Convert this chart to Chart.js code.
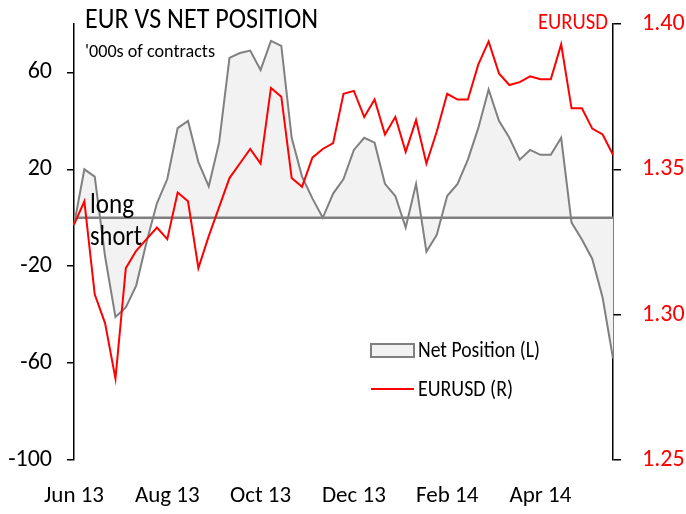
<!DOCTYPE html>
<html>
<head>
<meta charset="utf-8">
<script src="https://cdn.jsdelivr.net/npm/chart.js@4.4.1/dist/chart.umd.min.js"></script>
<style>
    html, body { margin: 0; padding: 0; background: #fff; }
    canvas { display: block; }
</style>
</head>
<body>
<canvas id="chart" width="686" height="514"></canvas>
<script>
// weekly data, Jun 2013 - Jun 2014
const xTickLabels = ['Jun 13', 'Aug 13', 'Oct 13', 'Dec 13', 'Feb 14', 'Apr 14']
const labelEvery = 9

// CFTC net position, '000s of contracts (left axis)
const netPosition = [
    -3, 20, 17, -16, -41, -37, -28, -10, 6, 16,
    37, 40, 23, 13, 31, 66, 68, 69, 61, 73,
    71, 33, 17, 8, 0, 10, 16, 28, 33, 31,
    14, 9, -4, 14, -14, -7, 9, 14, 24, 37,
    53, 40, 33, 24, 28, 26, 26, 33, -2, -9,
    -17, -33, -58
]

// EURUSD spot (right axis)
const eurusd = [
    1.331, 1.339, 1.307, 1.297, 1.278, 1.316, 1.322, 1.326, 1.330, 1.326,
    1.342, 1.339, 1.316, 1.327, 1.337, 1.347, 1.352, 1.357, 1.352, 1.378,
    1.375, 1.347, 1.344, 1.354, 1.357, 1.359, 1.376, 1.377, 1.368, 1.374,
    1.362, 1.368, 1.356, 1.367, 1.352, 1.363, 1.376, 1.374, 1.374, 1.386,
    1.394, 1.383, 1.379, 1.380, 1.382, 1.381, 1.381, 1.393, 1.371, 1.371,
    1.364, 1.362, 1.355
]

const leftTicks = [-100, -60, -20, 20, 60]
const rightTicks = [1.25, 1.30, 1.35, 1.40]

const FONT = 'Carlito, Lato, "Liberation Sans", sans-serif'
const GREY = '#808080'
const FILL = '#f2f2f2'
const RED = '#ff0000'

const weeks = netPosition.map((v, i) => i % labelEvery === 0 ? xTickLabels[i / labelEvery] : '')

// keep the plot box where the reference has it, whatever the tick labels want
const fixBox = size => scale => {
    if (scale.isHorizontal()) scale.height = size
    else scale.width = size
    scale.paddingTop = 0
    scale.paddingBottom = 0
    scale.paddingLeft = 0
    scale.paddingRight = 0
}

// zero line sits over the area fill but under the red line
const zeroLine = {
    id: 'zeroLine',
    afterDatasetDraw(chart, args) {
        if (args.index !== 0) return
        const {ctx, chartArea} = chart
        const y = chart.scales.yLeft.getPixelForValue(0)
        ctx.save()
        ctx.strokeStyle = GREY
        ctx.lineWidth = 2.5
        ctx.beginPath()
        ctx.moveTo(chartArea.left, y)
        ctx.lineTo(chartArea.right, y)
        ctx.stroke()
        ctx.restore()
    }
}

// title, notes and the in-plot legend
const annotations = {
    id: 'annotations',
    afterDraw(chart) {
        const ctx = chart.ctx
        const text = (str, x, y, size, color, align, maxWidth) => {
            ctx.font = size + 'px ' + FONT
            ctx.fillStyle = color
            ctx.textAlign = align
            ctx.textBaseline = 'alphabetic'
            ctx.fillText(str, x, y, maxWidth)
        }
        ctx.save()
        text('EUR VS NET POSITION', 85, 28, 28, '#000', 'left', 233)
        text("'000s of contracts", 85, 57, 19, '#000', 'left', 130)
        text('long', 90, 213, 28, '#000', 'left', 44)
        text('short', 90, 245, 28, '#000', 'left', 52)
        text('EURUSD', 608, 29, 23, RED, 'right', 70)

        const ds = chart.data.datasets
        ctx.fillStyle = FILL
        ctx.strokeStyle = GREY
        ctx.lineWidth = 2
        ctx.fillRect(371, 344, 43, 13)
        ctx.strokeRect(371, 344, 43, 13)
        text(ds[0].label, 418, 357, 22, '#000', 'left', 122)

        ctx.strokeStyle = RED
        ctx.lineWidth = 2
        ctx.beginPath()
        ctx.moveTo(371, 389)
        ctx.lineTo(414, 389)
        ctx.stroke()
        text(ds[1].label, 418, 396, 22, '#000', 'left', 95)
        ctx.restore()
    }
}

new Chart(document.getElementById('chart'), {
    type: 'line',
    data: {
        labels: weeks,
        datasets: [
            {
                label: 'Net Position (L)',
                data: netPosition,
                yAxisID: 'yLeft',
                borderColor: GREY,
                borderWidth: 2,
                backgroundColor: FILL,
                fill: 'origin',
                pointRadius: 0,
                tension: 0,
                order: 2
            },
            {
                label: 'EURUSD (R)',
                data: eurusd,
                yAxisID: 'yRight',
                borderColor: RED,
                borderWidth: 2,
                fill: false,
                pointRadius: 0,
                tension: 0,
                order: 1
            }
        ]
    },
    options: {
        responsive: false,
        animation: false,
        devicePixelRatio: 1,
        layout: {padding: {top: 24, left: 0, right: 0, bottom: 0}},
        plugins: {
            legend: {display: false},
            tooltip: {enabled: false}
        },
        scales: {
            x: {
                type: 'category',
                offset: false,
                grid: {display: false, drawTicks: false},
                border: {display: false},
                ticks: {
                    autoSkip: false,
                    maxRotation: 0,
                    minRotation: 0,
                    padding: 22,
                    color: '#000',
                    font: {family: FONT, size: 23},
                    callback: (v, i) => weeks[i] || null
                },
                afterFit: fixBox(54)
            },
            yLeft: {
                type: 'linear',
                position: 'left',
                min: -100,
                max: 80,
                afterBuildTicks: scale => { scale.ticks = leftTicks.map(v => ({value: v})) },
                grid: {drawOnChartArea: false, color: '#000', lineWidth: 1.5, tickLength: 7},
                border: {color: '#000', width: 1.5},
                ticks: {
                    padding: 15,
                    color: '#000',
                    font: {family: FONT, size: 24},
                    callback: v => String(v)
                },
                afterFit: fixBox(74)
            },
            yRight: {
                type: 'linear',
                position: 'right',
                min: 1.25,
                max: 1.40,
                afterBuildTicks: scale => { scale.ticks = rightTicks.map(v => ({value: v})) },
                grid: {drawOnChartArea: false, color: '#000', lineWidth: 1.5, tickLength: 8},
                border: {color: '#000', width: 1.5},
                ticks: {
                    padding: 21,
                    color: RED,
                    font: {family: FONT, size: 24},
                    callback: v => v.toFixed(2)
                },
                afterFit: fixBox(73)
            }
        }
    },
    plugins: [zeroLine, annotations]
})
</script>
</body>
</html>
